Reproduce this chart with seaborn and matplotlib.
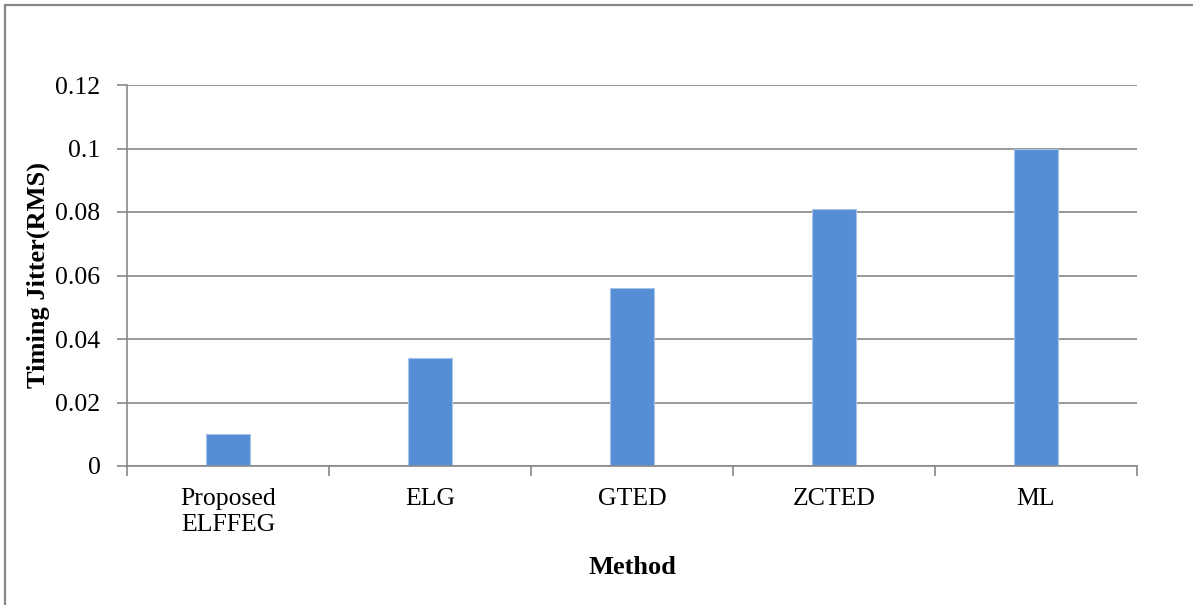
import matplotlib
matplotlib.use("Agg")
import matplotlib.pyplot as plt
from matplotlib.lines import Line2D
import seaborn as sns
import pandas as pd

methods = ["Proposed\nELFFEG", "ELG", "GTED", "ZCTED", "ML"]
jitter_rms = [0.01, 0.034, 0.056, 0.081, 0.1]
y_ticks = [0, 0.02, 0.04, 0.06, 0.08, 0.1, 0.12]
y_tick_labels = ["0", "0.02", "0.04", "0.06", "0.08", "0.1", "0.12"]

sns.set_theme(style="white")
plt.rcParams["font.family"] = ["Liberation Serif", "DejaVu Serif"]

GRID = "#878787"
BAR = "#558ED5"

df = pd.DataFrame({"Method": methods, "Jitter": jitter_rms})

fig = plt.figure(figsize=(11.93, 6.05), dpi=100)
ax = fig.add_axes([127 / 1193, 1 - 466 / 605, (1137 - 127) / 1193, (466 - 85) / 605])

sns.barplot(data=df, x="Method", y="Jitter", color=BAR, width=0.22,
            edgecolor="#a8c3ea", linewidth=0.8, saturation=1, ax=ax, zorder=3)

ax.set_ylim(0, 0.12)
ax.set_xlim(-0.5, len(methods) - 0.5)
ax.set_yticks(y_ticks)
ax.set_yticklabels(y_tick_labels)
ax.yaxis.grid(True, color=GRID, linewidth=1.2, zorder=0)
ax.set_axisbelow(True)

for side in ["top", "right"]:
    ax.spines[side].set_visible(False)
for side in ["left", "bottom"]:
    ax.spines[side].set_color(GRID)
    ax.spines[side].set_linewidth(1.2)
    ax.spines[side].set_zorder(4)

# category labels centred, tick marks between categories
ax.set_xticks(range(len(methods)))
ax.set_xticklabels(methods, linespacing=1.25)
ax.set_xticks([i - 0.5 for i in range(len(methods) + 1)], minor=True)
ax.tick_params(axis="x", which="major", length=0, pad=16, labelsize=18.5, colors="black")
ax.tick_params(axis="x", which="minor", length=7, width=1.2, color=GRID, direction="out")
ax.tick_params(axis="y", which="major", length=7, width=1.2, color=GRID, direction="out",
               pad=12, labelsize=18.5, labelcolor="black")
ax.tick_params(axis="x", which="both", bottom=True)
ax.tick_params(axis="y", left=True)

ax.set_xlabel("Method", fontsize=19, fontweight="bold", color="black", va="center")
ax.xaxis.set_label_coords(0.5, (466 - 567) / 381)
ax.set_ylabel("Timing Jitter(RMS)", fontsize=19, fontweight="bold", color="black", va="center")
ax.yaxis.set_label_coords((38 - 127) / 1010, 0.5)

# chart area frame
fig.add_artist(Line2D([5 / 1193, 5 / 1193], [0, 1 - 5 / 605], color=GRID, linewidth=1.6,
                      transform=fig.transFigure))
fig.add_artist(Line2D([5 / 1193, 1], [1 - 5 / 605, 1 - 5 / 605], color=GRID, linewidth=1.6,
                      transform=fig.transFigure))

fig.savefig("out.png", dpi=100, facecolor="white")
